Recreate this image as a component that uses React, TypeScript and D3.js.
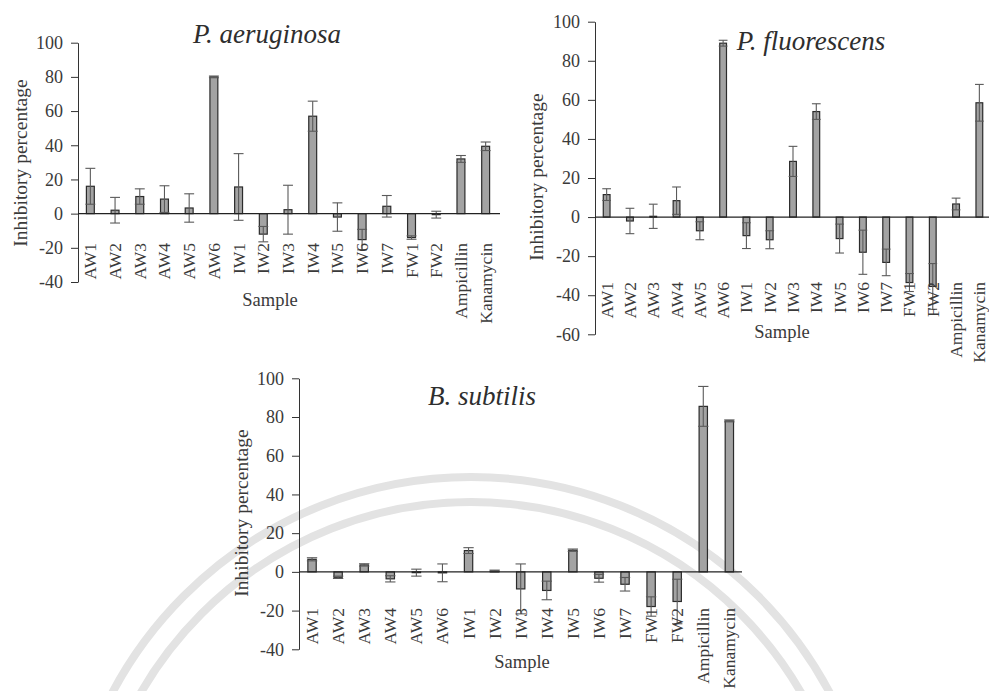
import { useEffect, useRef } from "react";
import * as d3 from "d3";

const samples = ["AW1", "AW2", "AW3", "AW4", "AW5", "AW6", "IW1", "IW2", "IW3", "IW4", "IW5", "IW6", "IW7", "FW1", "FW2", "Ampicillin", "Kanamycin"];

const aeruginosaMean = [16, 2, 10, 8.5, 3.3, 80, 15.6, -12, 2.3, 57, -2, -15.2, 4.3, -14, -0.6, 32, 39.4];
const aeruginosaErr = [10.5, 7.5, 4.5, 7.8, 8.3, 0.5, 19.5, 4.5, 14.3, 8.8, 8.3, 6, 6.3, 1, 2, 2, 2.5];

const fluorescensMean = [11.5, -2, 0.4, 8.4, -7, 89, -9.5, -11.6, 28.5, 54, -11, -18, -23.2, -33.5, -35.5, 6.7, 58.5];
const fluorescensErr = [3, 6.5, 6.2, 7, 4.6, 1.5, 6.6, 4.6, 7.7, 4, 7.4, 11.3, 6.8, 4.6, 11.7, 3, 9.4];

const subtilisMean = [6.5, -2.8, 3.6, -3.6, -0.4, -0.5, 11, 0.5, -8.8, -9.6, 11.2, -3.3, -6.4, -17.9, -15.3, 85.5, 78];
const subtilisErr = [0.8, 0.6, 0.6, 1.6, 1.8, 4.6, 1.5, 0.4, 12.9, 4.8, 0.6, 2, 3.5, 5, 11.5, 10.3, 0.5];

const ticks40 = [-40, -20, 0, 20, 40, 60, 80, 100];
const ticks60 = [-60, -40, -20, 0, 20, 40, 60, 80, 100];

const FONT = "'Liberation Serif', 'Times New Roman', serif";
const TEXT = "#3a3a3a";

const panels = [
    {title: "P. aeruginosa", mean: aeruginosaMean, err: aeruginosaErr, ticks: ticks40,
        x0: 78, x1: 498, yTop: 42.7, yBot: 282, pad: 0.68, lineEnd: 500,
        labelTop: 243, titleX: 267, titleY: 43, sampleX: 270, sampleY: 306, ylabX: 20, ylabY: 163},
    {title: "P. fluorescens", mean: fluorescensMean, err: fluorescensErr, ticks: ticks60,
        x0: 595, x1: 991, yTop: 21.7, yBot: 334.3, pad: 0.71, lineEnd: 989,
        labelTop: 282, titleX: 811, titleY: 50, sampleX: 782, sampleY: 338, ylabX: 536, ylabY: 177},
    {title: "B. subtilis", mean: subtilisMean, err: subtilisErr, ticks: ticks40,
        x0: 299, x1: 742.4, yTop: 378.3, yBot: 649.3, pad: 0.68, lineEnd: 742,
        labelTop: 608, titleX: 482, titleY: 405, sampleX: 522, sampleY: 668, ylabX: 241, ylabY: 513},
];

export default function App() {
    const ref = useRef<SVGSVGElement>(null);

    useEffect(() => {
        document.body.style.margin = "0";
        const svg = d3.select(ref.current);
        svg.selectAll("*").remove();

        // faint watermark arcs behind the lower chart
        const wm = svg.append("g").attr("fill", "none").attr("stroke", "#e3e3e3").attr("stroke-width", 8);
        [406, 381].forEach(r => {
            wm.append("circle").attr("cx", 471).attr("cy", 883).attr("r", r);
        });

        panels.forEach(p => {
            const g = svg.append("g");
            const lo = p.ticks[0];
            const y = d3.scaleLinear().domain([lo, 100]).range([p.yBot, p.yTop]);
            const x = d3.scaleBand().domain(samples).range([p.x0, p.x1])
                .paddingInner(p.pad).paddingOuter(p.pad / 2);

            const yAxis = d3.axisLeft(y).tickValues(p.ticks).tickSize(7).tickSizeOuter(0).tickPadding(8)
                .tickFormat(d => String(d));
            const ax = g.append("g").attr("transform", `translate(${p.x0},0)`).call(yAxis);
            ax.selectAll("path, line").attr("stroke", "#333");
            ax.selectAll("text").attr("font-family", FONT).attr("font-size", 18).attr("fill", TEXT);

            const data = samples.map((s, i) => ({key: s, v: p.mean[i], e: p.err[i]}));

            g.selectAll("rect.bar").data(data).enter().append("rect")
                .attr("class", "bar")
                .attr("x", d => x(d.key)!)
                .attr("y", d => y(Math.max(0, d.v)))
                .attr("width", x.bandwidth())
                .attr("height", d => Math.abs(y(d.v) - y(0)))
                .attr("fill", "#a3a3a3")
                .attr("stroke", "#2b2b2b")
                .attr("stroke-width", 1.2);

            const cap = x.bandwidth() / 2 + 1;
            const eb = g.selectAll("g.err").data(data).enter().append("g")
                .attr("class", "err")
                .attr("stroke", "#5a5a5a")
                .attr("stroke-width", 1.1);
            eb.append("line")
                .attr("x1", d => x(d.key)! + x.bandwidth() / 2)
                .attr("x2", d => x(d.key)! + x.bandwidth() / 2)
                .attr("y1", d => y(d.v + d.e))
                .attr("y2", d => y(d.v - d.e));
            [1, -1].forEach(sgn => {
                eb.append("line")
                    .attr("x1", d => x(d.key)! + x.bandwidth() / 2 - cap)
                    .attr("x2", d => x(d.key)! + x.bandwidth() / 2 + cap)
                    .attr("y1", d => y(d.v + sgn * d.e))
                    .attr("y2", d => y(d.v + sgn * d.e));
            });

            g.append("line")
                .attr("x1", p.x0).attr("x2", p.lineEnd)
                .attr("y1", y(0)).attr("y2", y(0))
                .attr("stroke", "#222").attr("stroke-width", 1.3);

            g.selectAll("text.cat").data(samples).enter().append("text")
                .attr("class", "cat")
                .attr("transform", d => `translate(${x(d)! + x.bandwidth() / 2},${p.labelTop}) rotate(-90)`)
                .attr("text-anchor", "end")
                .attr("dominant-baseline", "central")
                .attr("font-family", FONT)
                .attr("font-size", 17.5)
                .attr("fill", TEXT)
                .text(d => d);

            g.append("text")
                .attr("x", p.titleX).attr("y", p.titleY)
                .attr("text-anchor", "middle")
                .attr("font-family", FONT)
                .attr("font-style", "italic")
                .attr("font-size", 27)
                .attr("fill", "#2e2e2e")
                .text(p.title);

            g.append("text")
                .attr("x", p.sampleX).attr("y", p.sampleY)
                .attr("text-anchor", "middle")
                .attr("font-family", FONT)
                .attr("font-size", 18.5)
                .attr("fill", TEXT)
                .text("Sample");

            g.append("text")
                .attr("transform", `translate(${p.ylabX},${p.ylabY}) rotate(-90)`)
                .attr("text-anchor", "middle")
                .attr("dominant-baseline", "central")
                .attr("font-family", FONT)
                .attr("font-size", 19.5)
                .attr("fill", TEXT)
                .text("Inhibitory percentage");
        });
    }, []);

    return <svg ref={ref} width={989} height={691} style={{display: "block", background: "#fff"}}/>;
}
